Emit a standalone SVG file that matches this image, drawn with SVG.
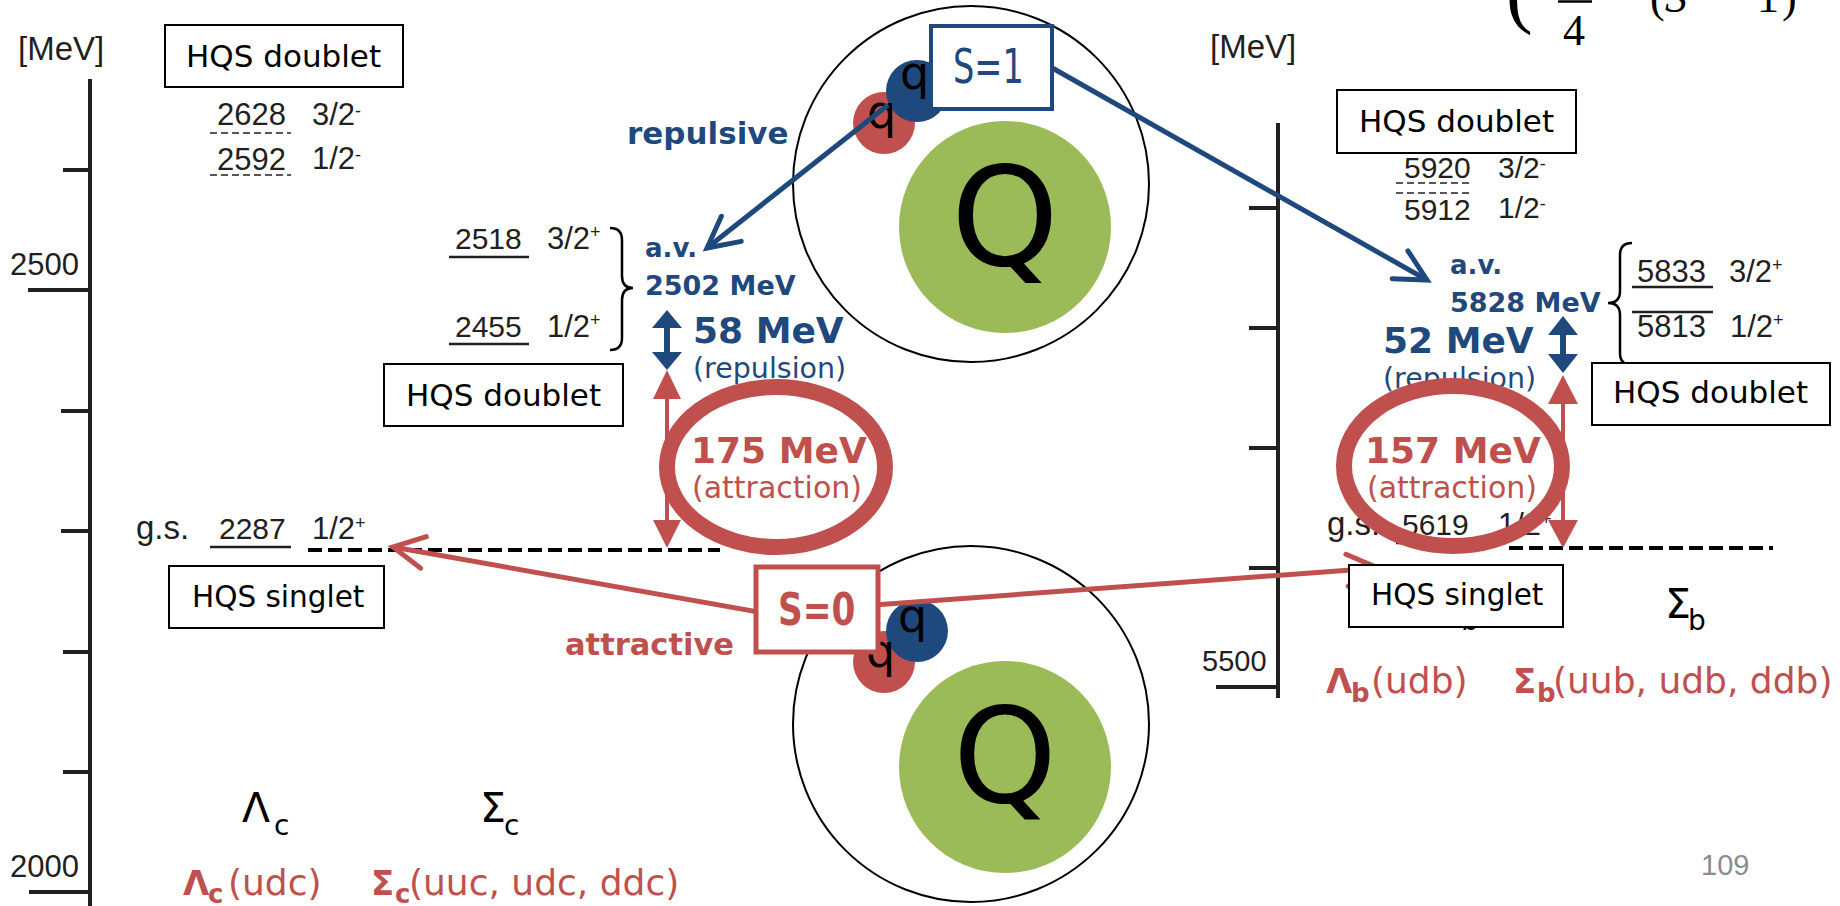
<svg xmlns="http://www.w3.org/2000/svg" width="1840" height="906" viewBox="0 0 1840 906">
<defs>
<style>
.cal{font-family:"Liberation Sans",Arial,sans-serif;fill:#231F20}
.cg{font-family:"DejaVu Sans",Verdana,sans-serif;fill:#000}
.b{font-weight:bold}
.blue{fill:#1F497D}
.red{fill:#C0504D}
.gray{fill:#8C8C8C}
.tex{font-family:"Liberation Serif","Times New Roman",serif;fill:#000}
.box{fill:#fff;stroke:#000;stroke-width:2}
.axis{stroke:#231F20;stroke-width:4;fill:none}
.lvl{stroke:#231F20;stroke-width:2.5}
.dthin{stroke:#231F20;stroke-width:1.5;stroke-dasharray:7 4}
.dgs{stroke:#000;stroke-width:4;stroke-dasharray:14 6}
.brace{fill:none;stroke:#000;stroke-width:2.5}
.shell{fill:none;stroke:#000;stroke-width:2}
.core{fill:#9BBB59}
.qr{fill:#C0504D}
.qb{fill:#1F497D}
.ring{fill:none;stroke:#C0504D;stroke-width:16}
.conn-blue{stroke:#1F497D;stroke-width:5;fill:none;marker-end:url(#chevBlue)}
.conn-red{stroke:#C0504D;stroke-width:5;fill:none;marker-end:url(#chevRed)}
</style>
<marker id="chevBlue" markerUnits="userSpaceOnUse" orient="auto" viewBox="-40 -22 46 44" markerWidth="46" markerHeight="44" refX="0" refY="0">
<path d="M-31,-16 L0,0 L-31,16" fill="none" stroke="#1F497D" stroke-width="5" stroke-linecap="round"/>
</marker>
<marker id="chevRed" markerUnits="userSpaceOnUse" orient="auto" viewBox="-40 -22 46 44" markerWidth="46" markerHeight="44" refX="0" refY="0">
<path d="M-31,-16 L0,0 L-31,16" fill="none" stroke="#C0504D" stroke-width="5" stroke-linecap="round"/>
</marker>
</defs>
<rect width="1840" height="906" fill="#fff"/>

<!-- charm axis -->
<g id="axis-charm">
<path class="axis" d="M90,79 V906 M63,170 H90 M28,290 H90 M61,411 H90 M61,531 H90 M63,652 H90 M63,772 H90 M29,892 H90"/>
<text class="cal" x="18" y="60" font-size="33">[MeV]</text>
<text class="cal" x="10" y="275" font-size="31">2500</text>
<text class="cal" x="10" y="877" font-size="31">2000</text>
</g>

<!-- bottom axis -->
<g id="axis-bottom">
<path class="axis" d="M1278,123 V698 M1249,208 H1278 M1249,328 H1278 M1249,448 H1278 M1249,568 H1278 M1216,687 H1278"/>
<text class="cal" x="1210" y="58" font-size="33">[MeV]</text>
<text class="cal" x="1202" y="671" font-size="29">5500</text>
</g>

<!-- S=1 diquark picture -->
<g id="diquark-s1">
<circle class="shell" cx="971" cy="184" r="178"/>
<circle class="core" cx="1005" cy="227" r="106"/>
<text class="cg" x="1005" y="265" font-size="137" text-anchor="middle">Q</text>
<circle class="qr" cx="884" cy="123" r="31"/>
<circle class="qb" cx="917" cy="91" r="31"/>
<text class="cg" x="867" y="128" font-size="46">q</text>
<text class="cg" x="900" y="89" font-size="46">q</text>
<text class="cg b blue" x="627" y="144" font-size="31">repulsive</text>
</g>

<!-- S=0 diquark picture -->
<g id="diquark-s0">
<circle class="shell" cx="971" cy="724" r="178"/>
<circle class="core" cx="1005" cy="767" r="106"/>
<text class="cg" x="1005" y="802" font-size="132" text-anchor="middle">Q</text>
<circle class="qr" cx="884" cy="662" r="31"/>
<circle class="qb" cx="917" cy="631" r="31"/>
<text class="cg" x="866" y="667" font-size="46">q</text>
<text class="cg" x="898" y="632" font-size="46">q</text>
<text class="cg b red" x="565" y="655" font-size="30.5">attractive</text>
</g>

<!-- Lambda_c negative-parity doublet -->
<g id="lc-doublet-neg">
<rect class="box" x="165" y="25" width="238" height="62"/>
<text class="cg" x="186" y="67" font-size="31">HQS doublet</text>
<text class="cal" x="217" y="125" font-size="31">2628</text>
<text class="cal" x="312" y="125" font-size="31">3/2<tspan font-size="18" dy="-8">-</tspan></text>
<line class="dthin" x1="210" y1="133" x2="291" y2="133"/>
<text class="cal" x="217" y="170" font-size="31">2592</text>
<text class="cal" x="312" y="169" font-size="31">1/2<tspan font-size="18" dy="-8">-</tspan></text>
<line class="dthin" x1="210" y1="175" x2="291" y2="175"/>
</g>

<!-- Sigma_c positive-parity doublet -->
<g id="sc-doublet">
<text class="cal" x="455" y="249" font-size="30">2518</text>
<line class="lvl" x1="449" y1="257" x2="529" y2="257"/>
<text class="cal" x="547" y="249" font-size="31">3/2<tspan font-size="18" dy="-11">+</tspan></text>
<text class="cal" x="455" y="337" font-size="30">2455</text>
<line class="lvl" x1="449" y1="344" x2="529" y2="344"/>
<text class="cal" x="547" y="337" font-size="31">1/2<tspan font-size="18" dy="-11">+</tspan></text>
<path class="brace" d="M610,228 Q622,228 622,240 L622,276 Q622,288 633,288 Q622,288 622,300 L622,338 Q622,350 610,350"/>
<rect class="box" x="384" y="364" width="239" height="62"/>
<text class="cg" x="406" y="406" font-size="31">HQS doublet</text>
<text class="cg b blue" x="645" y="257" font-size="26">a.v.</text>
<text class="cg b blue" x="645" y="295" font-size="27">2502 MeV</text>
</g>

<!-- Lambda_c ground state -->
<g id="lc-ground">
<text class="cal" x="136" y="539" font-size="33">g.s.</text>
<text class="cal" x="219" y="539" font-size="30">2287</text>
<line class="lvl" x1="210" y1="547" x2="291" y2="547"/>
<text class="cal" x="312" y="539" font-size="31">1/2<tspan font-size="18" dy="-10">+</tspan></text>
<line class="dgs" x1="308" y1="550" x2="720" y2="550"/>
<rect class="box" x="169" y="566" width="215" height="62"/>
<text class="cg" x="192" y="607" font-size="29.5">HQS singlet</text>
</g>

<!-- charm baryon names -->
<g id="labels-charm">
<text class="cg" x="242" y="822" font-size="41">Λ<tspan x="274" y="835" font-size="28">c</tspan></text>
<text class="cg" x="480" y="822" font-size="41">Σ<tspan x="504" y="835" font-size="28">c</tspan></text>
<text class="cg red" y="895" font-size="36"><tspan class="b" x="183" font-size="34">Λ</tspan><tspan class="b" x="208" y="903" font-size="26">c</tspan><tspan x="228" y="895">(udc)</tspan></text>
<text class="cg red" y="895" font-size="36"><tspan class="b" x="371" font-size="34">Σ</tspan><tspan class="b" x="395" y="903" font-size="26">c</tspan><tspan x="409" y="895">(uuc, udc, ddc)</tspan></text>
</g>

<!-- Lambda_b / Sigma_b negative-parity doublet -->
<g id="lb-doublet-neg">
<rect class="box" x="1337" y="90" width="239" height="63"/>
<text class="cg" x="1359" y="132" font-size="31">HQS doublet</text>
<text class="cal" x="1404" y="178" font-size="30">5920</text>
<text class="cal" x="1498" y="178" font-size="30">3/2<tspan font-size="18" dy="-8">-</tspan></text>
<line class="dthin" x1="1396" y1="183" x2="1469" y2="183"/>
<line class="dthin" x1="1396" y1="193" x2="1469" y2="193"/>
<text class="cal" x="1404" y="220" font-size="30">5912</text>
<text class="cal" x="1498" y="218" font-size="30">1/2<tspan font-size="18" dy="-8">-</tspan></text>
</g>

<!-- Sigma_b positive-parity doublet -->
<g id="sb-doublet">
<text class="cg b blue" x="1450" y="274" font-size="26">a.v.</text>
<text class="cg b blue" x="1450" y="312" font-size="27">5828 MeV</text>
<path class="brace" d="M1632,243 Q1620,243 1620,255 L1620,291 Q1620,303 1608,303 Q1620,303 1620,315 L1620,353 Q1620,365 1632,365"/>
<text class="cal" x="1637" y="282" font-size="31">5833</text>
<line class="lvl" x1="1632" y1="287" x2="1713" y2="287"/>
<text class="cal" x="1729" y="282" font-size="31">3/2<tspan font-size="18" dy="-11">+</tspan></text>
<line class="lvl" x1="1632" y1="312" x2="1713" y2="312"/>
<text class="cal" x="1637" y="337" font-size="31">5813</text>
<text class="cal" x="1730" y="337" font-size="31">1/2<tspan font-size="18" dy="-11">+</tspan></text>
<rect class="box" x="1592" y="363" width="238" height="62"/>
<text class="cg" x="1613" y="403" font-size="31">HQS doublet</text>
</g>

<!-- Lambda_b ground state -->
<g id="lb-ground">
<text class="cal" x="1327" y="535" font-size="33">g.s.</text>
<text class="cal" x="1402" y="535" font-size="30">5619</text>
<line class="lvl" x1="1396" y1="543" x2="1477" y2="543"/>
<text class="cal" x="1498" y="535" font-size="31">1/2<tspan font-size="18" dy="-10">+</tspan></text>
<line class="dgs" x1="1509" y1="548" x2="1773" y2="548"/>
</g>

<!-- bottom baryon names -->
<g id="labels-bottom">
<text class="cg" x="1431" y="618" font-size="41">Λ<tspan x="1461" y="630" font-size="28">b</tspan></text>
<text class="cg" x="1665" y="618" font-size="41">Σ<tspan x="1688" y="630" font-size="28">b</tspan></text>
<text class="cg red" y="693" font-size="36"><tspan class="b" x="1326" font-size="34">Λ</tspan><tspan class="b" x="1351" y="702" font-size="26">b</tspan><tspan x="1371" y="693">(udb)</tspan></text>
<text class="cg red" y="693" font-size="36"><tspan class="b" x="1513" font-size="34">Σ</tspan><tspan class="b" x="1537" y="702" font-size="26">b</tspan><tspan x="1553" y="693">(uub, udb, ddb)</tspan></text>
</g>

<!-- connectors: spin of the diquark to the level it produces -->
<g id="connectors">
<path class="conn-blue" d="M888,105 L707,248"/>
<path class="conn-blue" d="M1040,61 L1427,280"/>
<path class="conn-red" d="M770,614 L393,547"/>
<path class="conn-red" d="M860,606 L1378,568"/>
</g>

<!-- spin boxes -->
<g id="spin-s1">
<rect x="931" y="26" width="121" height="83" fill="#fff" stroke="#1F497D" stroke-width="4"/>
<text class="cg blue" transform="translate(953,83) scale(0.7,1)" font-size="48">S=1</text>
</g>
<g id="spin-s0">
<rect x="756" y="567" width="122" height="85" fill="#fff" stroke="#C0504D" stroke-width="5"/>
<text class="cg b red" transform="translate(778,625) scale(0.78,1)" font-size="44">S=0</text>
</g>

<!-- charm splittings -->
<g id="gap-charm">
<path class="qb" d="M667,310 L682,328 L670,328 L670,352 L682,352 L667,370 L652,352 L664,352 L664,328 L652,328 Z"/>
<text class="cg b blue" x="693" y="343" font-size="36">58 MeV</text>
<text class="cg blue" x="693" y="378" font-size="28.5">(repulsion)</text>
<path class="qr" d="M667,370 L681,399 L669,399 L669,520 L681,520 L667,548 L653,520 L665,520 L665,399 L653,399 Z"/>
<ellipse class="ring" cx="776" cy="467" rx="109" ry="80"/>
<text class="cg b red" x="691" y="463" font-size="36">175 MeV</text>
<text class="cg red" x="692" y="498" font-size="30">(attraction)</text>
</g>

<!-- bottom splittings -->
<g id="gap-bottom">
<path class="qb" d="M1563,316 L1578,335 L1566,335 L1566,354 L1578,354 L1563,373 L1548,354 L1560,354 L1560,335 L1548,335 Z"/>
<text class="cg b blue" x="1383" y="353" font-size="36">52 MeV</text>
<text class="cg blue" x="1383" y="388" font-size="28.5">(repulsion)</text>
<path class="qr" d="M1563,375 L1578,404 L1565,404 L1565,520 L1578,520 L1563,548 L1548,520 L1561,520 L1561,404 L1548,404 Z"/>
<ellipse class="ring" cx="1453" cy="466" rx="109" ry="80"/>
<text class="cg b red" x="1365" y="463" font-size="36">157 MeV</text>
<text class="cg red" x="1367" y="498" font-size="30">(attraction)</text>
</g>

<!-- Lambda_b singlet label -->
<g id="lb-singlet">
<rect class="box" x="1349" y="565" width="214" height="62"/>
<text class="cg" x="1371" y="605" font-size="29.5">HQS singlet</text>
</g>

<!-- spin factor, upper edge -->
<g id="formula">
<text class="tex" x="1506" y="18" font-size="80">(</text>
<line x1="1558" y1="1.5" x2="1592" y2="1.5" stroke="#000" stroke-width="2.5"/>
<text class="tex" x="1563" y="45" font-size="44">4</text>
<text class="tex" y="12" font-size="44"><tspan x="1650">(</tspan><tspan x="1665" font-style="italic">S</tspan><tspan x="1703">−</tspan><tspan x="1757">1</tspan><tspan x="1782">)</tspan></text>
</g>

<g id="page-number">
<text class="cal gray" x="1701" y="875" font-size="29">109</text>
</g>
</svg>
